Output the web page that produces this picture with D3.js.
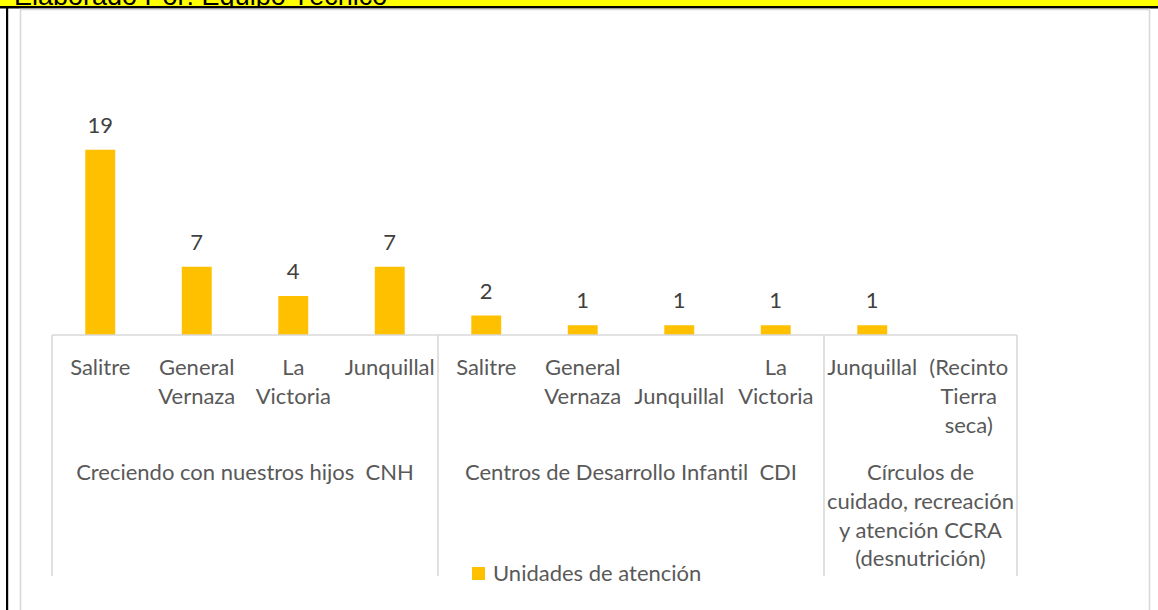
<!DOCTYPE html>
<html>
<head>
<meta charset="utf-8">
<script src="https://cdn.jsdelivr.net/npm/d3@7"></script>
<style>
  body { margin: 0; background: #fff; }
  .chart text { font-family: Lato, "Open Sans", sans-serif; font-variant-ligatures: none; }
</style>
</head>
<body>
<div class="chart"></div>
<script>
// data
const groups = [
  {lines: ["Creciendo con nuestros hijos  CNH"], start: 0, end: 4},
  {lines: ["Centros de Desarrollo Infantil  CDI"], start: 4, end: 8},
  {lines: ["Círculos de", "cuidado, recreación", "y atención CCRA", "(desnutrición)"], start: 8, end: 10}
];
const categories = [
  ["Salitre"], ["General", "Vernaza"], ["La", "Victoria"], ["Junquillal"],
  ["Salitre"], ["General", "Vernaza"], ["", "Junquillal"], ["La", "Victoria"],
  ["Junquillal"], ["(Recinto", "Tierra", "seca)"]
];
const values = [19, 7, 4, 7, 2, 1, 1, 1, 1, null];
const seriesName = "Unidades de atención";
const source = "Elaborado Por: Equipo Técnico";

const W = 1158, H = 610;
const barColor = "#ffc000", textColor = "#595959", lineColor = "#d9d9d9";

const svg = d3.select(".chart").append("svg")
    .attr("width", W)
    .attr("height", H);

// yellow source banner at the very top (cut off)
svg.append("clipPath").attr("id", "bannerClip")
  .append("rect").attr("x", 0).attr("y", 0).attr("width", W).attr("height", 6);
const banner = svg.append("g").attr("clip-path", "url(#bannerClip)");
banner.append("rect")
    .attr("width", W).attr("height", 6)
    .attr("fill", "#ffff00");
banner.append("text")
    .attr("x", 14).attr("y", 5)
    .style("font-family", "'Liberation Sans', Arial, sans-serif")
    .style("font-size", "27px")
    .attr("fill", "#000")
    .text(source);
svg.append("rect").attr("x", 0).attr("y", 6).attr("width", W).attr("height", 2.5).attr("fill", "#000");
svg.append("rect").attr("x", 6).attr("y", 6).attr("width", 2.2).attr("height", H).attr("fill", "#000");

// chart area border
svg.append("rect")
    .attr("x", 20.5).attr("y", 9.5)
    .attr("width", 1129).attr("height", 700)
    .attr("fill", "none")
    .attr("stroke", lineColor)
    .attr("stroke-width", 1.6);

// scales
const x = d3.scaleBand()
    .domain(d3.range(categories.length))
    .range([52, 1017])
    .paddingInner(0.69)
    .paddingOuter(0.345);

const y = d3.scaleLinear()
    .domain([0, 20])
    .range([335, 140]);

const edge = i => x.range()[0] + i * x.step();
const center = i => x(i) + x.bandwidth() / 2;

// bars
svg.append("g")
  .selectAll("rect")
  .data(values.map((v, i) => ({v, i})).filter(d => d.v != null))
  .join("rect")
    .attr("x", d => x(d.i))
    .attr("y", d => y(d.v))
    .attr("width", x.bandwidth())
    .attr("height", d => y(0) - y(d.v))
    .attr("fill", barColor);

// data labels
svg.append("g")
  .selectAll("text")
  .data(values.map((v, i) => ({v, i})).filter(d => d.v != null))
  .join("text")
    .attr("x", d => center(d.i))
    .attr("y", d => y(d.v) - 17)
    .attr("text-anchor", "middle")
    .attr("fill", "#404040")
    .style("font-size", "22px")
    .text(d => d.v);

// category axis: baseline and group dividers
const axis = svg.append("g");
axis.append("line")
    .attr("x1", x.range()[0]).attr("x2", x.range()[1])
    .attr("y1", y(0)).attr("y2", y(0))
    .attr("stroke", lineColor).attr("stroke-width", 1.6);

const dividers = [0].concat(groups.map(g => g.end));
axis.selectAll("line.div")
  .data(dividers)
  .join("line")
    .attr("class", "div")
    .attr("x1", d => edge(d)).attr("x2", d => edge(d))
    .attr("y1", y(0)).attr("y2", 576)
    .attr("stroke", lineColor).attr("stroke-width", 1.6);

// category labels
const lineH = 28.8;
axis.selectAll("text.cat")
  .data(categories)
  .join("text")
    .attr("class", "cat")
    .attr("text-anchor", "middle")
    .attr("fill", textColor)
    .style("font-size", "22px")
  .selectAll("tspan")
  .data((d, i) => d.map(s => ({s, i})))
  .join("tspan")
    .attr("x", d => center(d.i))
    .attr("y", (d, j) => 375 + j * lineH)
    .text(d => d.s);

// group labels
axis.selectAll("text.grp")
  .data(groups)
  .join("text")
    .attr("class", "grp")
    .attr("text-anchor", "middle")
    .attr("fill", textColor)
    .style("font-size", "22px")
    .style("white-space", "pre")
  .selectAll("tspan")
  .data(g => g.lines.map(s => ({s, g})))
  .join("tspan")
    .attr("x", d => (edge(d.g.start) + edge(d.g.end)) / 2)
    .attr("y", (d, j) => 480 + j * lineH)
    .text(d => d.s);

// legend
const legend = svg.append("g").attr("transform", "translate(472,567)");
legend.append("rect")
    .attr("width", 13).attr("height", 13)
    .attr("fill", barColor);
legend.append("text")
    .attr("x", 21).attr("y", 14)
    .attr("fill", textColor)
    .style("font-size", "22px")
    .text(seriesName);
</script>
</body>
</html>
